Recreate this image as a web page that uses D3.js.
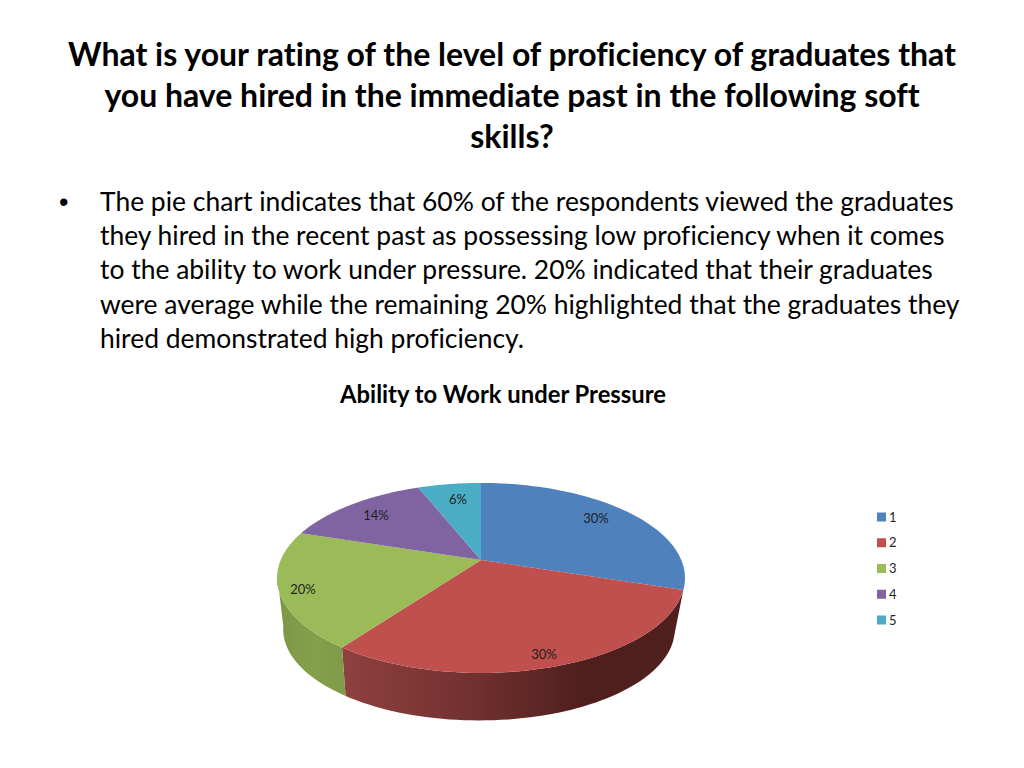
<!DOCTYPE html>
<html>
<head>
<meta charset="utf-8">
<script src="https://cdn.jsdelivr.net/npm/d3@7"></script>
<style>
  html, body { margin: 0; padding: 0; background: #fff; }
  svg { display: block; font-family: Lato, sans-serif; font-variant-ligatures: none; }
</style>
</head>
<body>
<svg id="slide" width="1024" height="768"></svg>
<script>
const categories = ["1", "2", "3", "4", "5"];
const shares = [30, 30, 20, 14, 6];
const sliceColors = ["#4f81bd", "#c0504d", "#9bbb59", "#8064a2", "#4bacc6"];
const titleLines = [
  "What is your rating of the level of proficiency of graduates that",
  "you have hired in the immediate past in the following soft",
  "skills?"
];
const bodyLines = [
  "The pie chart indicates that 60% of the respondents viewed the graduates",
  "they hired in the recent past as possessing low proficiency when it comes",
  "to the ability to work under pressure. 20% indicated that their graduates",
  "were average while the remaining 20% highlighted that the graduates they",
  "hired demonstrated high proficiency."
];
const chartTitle = "Ability to Work under Pressure";

const svg = d3.select("#slide");
const defs = svg.append("defs");

// slide heading
svg.append("g").selectAll("text")
  .data(titleLines)
  .enter().append("text")
  .attr("x", 512)
  .attr("y", (d, i) => 65.5 + i * 41)
  .attr("text-anchor", "middle")
  .style("font-size", "32px")
  .style("font-weight", "bold")
  .attr("fill", "#000")
  .text(d => d);

// bullet text
svg.append("text")
  .attr("x", 59).attr("y", 211)
  .style("font-size", "27px")
  .style("font-family", "Arial, 'Liberation Sans', sans-serif")
  .text("•");

svg.append("g").selectAll("text")
  .data(bodyLines)
  .enter().append("text")
  .attr("x", 100)
  .attr("y", (d, i) => 211 + i * 34.2)
  .style("font-size", "26.45px")
  .attr("fill", "#000")
  .text(d => d);

svg.append("text")
  .attr("x", 503).attr("y", 403)
  .attr("text-anchor", "middle")
  .style("font-size", "23.8px")
  .style("font-weight", "bold")
  .text(chartTitle);

// pie: angles from d3.pie, then a perspective projection of the disc
const cx = 481, cy = 560, radius = 200.3, k = 91.6, p = 0.189;
const pie = d3.pie().sort(null).value(d => d);
const arcs = pie(shares);

function project(a, scale, x0, y0) {
  const s = Math.sin(a), c = Math.cos(a), w = 1 + p * c;
  return [x0 + scale * radius * s / w, y0 - scale * k * c / w];
}
const topPoint = a => project(a, 1, cx, cy);
const bottomPoint = a => project(a, 0.96, 479, 612);

const anglesBetween = (a0, a1) => d3.range(0, 61).map(i => a0 + (a1 - a0) * i / 60);

// side walls, only red and green show
const wallStops = {
  1: [[0, "#8f413e"], [40, "#6f302e"], [70, "#501f1d"], [100, "#4f201e"]],
  2: [[0, "#7c9647"], [50, "#84a04b"], [100, "#7f9a49"]]
};
const walls = svg.append("g");
arcs.forEach((d, i) => {
  if (!wallStops[i]) return;
  const a0 = d.startAngle;
  const a1 = Math.min(d.endAngle, Math.PI * 1.45);
  const steps = anglesBetween(a0, a1);
  const ring = steps.map(topPoint).concat(steps.slice().reverse().map(bottomPoint));
  const xs = d3.extent(ring, q => q[0]);
  const id = "wall-" + i;
  const grad = defs.append("linearGradient")
    .attr("id", id)
    .attr("gradientUnits", "userSpaceOnUse")
    .attr("x1", xs[0]).attr("y1", 0)
    .attr("x2", xs[1]).attr("y2", 0);
  wallStops[i].forEach(st => {
    grad.append("stop").attr("offset", st[0] + "%").attr("stop-color", st[1]);
  });
  walls.append("path")
    .attr("d", d3.line()(ring) + "Z")
    .attr("fill", `url(#${id})`);
});

// top faces
svg.append("g").selectAll("path")
  .data(arcs)
  .enter().append("path")
  .attr("d", d => d3.line()(
    [[cx, cy]].concat(anglesBetween(d.startAngle, d.endAngle).map(topPoint))
  ) + "Z")
  .attr("fill", (d, i) => sliceColors[i]);

// data labels
const labelPos = [[596, 523], [544, 659], [303, 594], [376, 520], [458, 504]];
svg.append("g").selectAll("text")
  .data(shares)
  .enter().append("text")
  .attr("x", (d, i) => labelPos[i][0])
  .attr("y", (d, i) => labelPos[i][1])
  .attr("text-anchor", "middle")
  .style("font-size", "13px")
  .attr("fill", "#1f1f1f")
  .text(d => d + "%");

// legend
const legendY = d3.scalePoint().domain(categories).range([517, 620]);
const legend = svg.append("g").selectAll("g")
  .data(categories)
  .enter().append("g")
  .attr("transform", d => `translate(877,${legendY(d)})`);
legend.append("rect")
  .attr("y", -4.5).attr("width", 9).attr("height", 9)
  .attr("fill", (d, i) => sliceColors[i]);
legend.append("text")
  .attr("x", 12).attr("y", 4.5)
  .style("font-size", "13px")
  .attr("fill", "#262626")
  .text(d => d);
</script>
</body>
</html>
